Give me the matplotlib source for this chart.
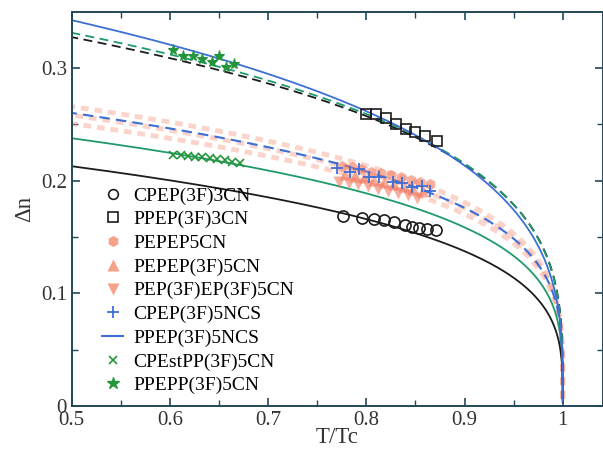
import numpy as np
import matplotlib
matplotlib.use('Agg')
import matplotlib.pyplot as plt
from matplotlib.lines import Line2D

plt.rcParams['font.family'] = ['Liberation Serif', 'DejaVu Serif']

# measured points
cpep3cn_x = [0.776, 0.796, 0.808, 0.818, 0.828, 0.839, 0.846, 0.854, 0.862, 0.871]
cpep3cn_y = [0.169, 0.167, 0.166, 0.165, 0.163, 0.161, 0.159, 0.158, 0.157, 0.156]

ppep3cn_x = [0.800, 0.810, 0.820, 0.830, 0.840, 0.850, 0.860, 0.872]
ppep3cn_y = [0.259, 0.259, 0.256, 0.250, 0.246, 0.243, 0.240, 0.235]

pepep5cn_x = [0.775, 0.785, 0.795, 0.805, 0.815, 0.825, 0.835, 0.845, 0.855, 0.865]
pepep5cn_y = [0.213, 0.212, 0.210, 0.208, 0.207, 0.205, 0.203, 0.201, 0.199, 0.197]

pepep3f5cn_x = [0.778, 0.788, 0.798, 0.808, 0.818, 0.828, 0.838, 0.848, 0.858]
pepep3f5cn_y = [0.206, 0.204, 0.203, 0.201, 0.199, 0.197, 0.195, 0.193, 0.191]

pep3fep3f5cn_x = [0.772, 0.782, 0.792, 0.802, 0.812, 0.822, 0.832, 0.842, 0.852]
pep3fep3f5cn_y = [0.199, 0.198, 0.197, 0.195, 0.193, 0.191, 0.189, 0.187, 0.185]

cpep5ncs_x = [0.770, 0.783, 0.793, 0.803, 0.813, 0.827, 0.836, 0.846, 0.857, 0.865]
cpep5ncs_y = [0.211, 0.208, 0.210, 0.203, 0.203, 0.199, 0.198, 0.194, 0.195, 0.191]

cpestpp_x = [0.603, 0.611, 0.618, 0.626, 0.633, 0.641, 0.648, 0.656, 0.663, 0.671]
cpestpp_y = [0.223, 0.223, 0.222, 0.221, 0.221, 0.220, 0.219, 0.218, 0.217, 0.216]

ppepp_x = [0.603, 0.613, 0.623, 0.633, 0.643, 0.650, 0.657, 0.665]
ppepp_y = [0.316, 0.311, 0.311, 0.308, 0.305, 0.311, 0.301, 0.304]

# Haller fits: dn = dn0 * (1 - T/Tc)**beta
fit_names = ['cpep3cn', 'ppep3cn', 'ppepp', 'ppep5ncs', 'cpep5ncs', 'cpestpp',
             'pepep5cn', 'pepep3f5cn', 'pep3fep3f5cn']
fit_dn0 = [0.257, 0.393, 0.399, 0.420, 0.308, 0.283, 0.314, 0.305, 0.296]
fit_beta = [0.272, 0.263, 0.268, 0.294, 0.2435, 0.2516, 0.24, 0.24, 0.24]

black = '#1c1c1c'
blue = '#3d6fd6'
green = '#23963c'
teal = '#1f9a6a'
salmon = '#f6a18a'
red = '#f27a60'
axcol = '#23475a'

band = dict(color=salmon, ls=(0, (1.6, 1.2)), lw=3.5, alpha=0.45)
fit_style = {
    'cpep3cn': dict(color=black, ls='-', lw=1.3),
    'ppep3cn': dict(color=black, ls=(0, (5, 3)), lw=1.3),
    'ppepp': dict(color=teal, ls=(0, (5, 3)), lw=1.3),
    'ppep5ncs': dict(color=blue, ls='-', lw=1.3),
    'cpep5ncs': dict(color=blue, ls=(0, (5, 3)), lw=1.5),
    'cpestpp': dict(color=teal, ls='-', lw=1.3),
    'pepep5cn': band,
    'pepep3f5cn': band,
    'pep3fep3f5cn': band,
}

fig = plt.figure(figsize=(6.03, 4.54), dpi=100)
ax = fig.add_axes([0.119, 0.106, 0.881, 0.868])

t = 1 - np.logspace(-7, np.log10(0.5), 600)
order = ['pepep5cn', 'pepep3f5cn', 'pep3fep3f5cn', 'cpestpp', 'cpep3cn',
         'cpep5ncs', 'ppep3cn', 'ppepp', 'ppep5ncs']
for name in order:
    i = fit_names.index(name)
    ax.plot(t, fit_dn0[i] * (1 - t) ** fit_beta[i], zorder=2, **fit_style[name])

ms = 8
ax.plot(pepep5cn_x, pepep5cn_y, 'h', color=red, ms=ms, alpha=0.6, mec='none', zorder=3)
ax.plot(pepep3f5cn_x, pepep3f5cn_y, '^', color=red, ms=ms, alpha=0.6, mec='none', zorder=3)
ax.plot(pep3fep3f5cn_x, pep3fep3f5cn_y, 'v', color=red, ms=ms, alpha=0.6, mec='none', zorder=3)
ax.plot(cpep3cn_x, cpep3cn_y, 'o', mfc='none', mec=black, mew=1.2, ms=8, zorder=4)
ax.plot(ppep3cn_x, ppep3cn_y, 's', mfc='none', mec=black, mew=1.2, ms=7.5, zorder=4)
ax.plot(cpep5ncs_x, cpep5ncs_y, '+', color=blue, ms=9, mew=1.3, zorder=4)
ax.plot(cpestpp_x, cpestpp_y, 'x', color=green, ms=6, mew=1.2, zorder=4)
ax.plot(ppepp_x, ppepp_y, '*', color=green, ms=8, mew=0.8, zorder=4)

handles = [
    Line2D([], [], ls='none', marker='o', mfc='none', mec=black, mew=1.2, ms=7),
    Line2D([], [], ls='none', marker='s', mfc='none', mec=black, mew=1.2, ms=7),
    Line2D([], [], ls='none', marker='h', color=salmon, mec='none', ms=8),
    Line2D([], [], ls='none', marker='^', color=salmon, mec='none', ms=8),
    Line2D([], [], ls='none', marker='v', color=salmon, mec='none', ms=8),
    Line2D([], [], ls='none', marker='+', color=blue, mew=1.3, ms=9),
    Line2D([], [], color=blue, lw=1.5),
    Line2D([], [], ls='none', marker='x', color=green, mew=1.2, ms=6),
    Line2D([], [], ls='none', marker='*', color=green, ms=9),
]
labels = ['CPEP(3F)3CN', 'PPEP(3F)3CN', 'PEPEP5CN', 'PEPEP(3F)5CN',
          'PEP(3F)EP(3F)5CN', 'CPEP(3F)5NCS', 'PPEP(3F)5NCS',
          'CPEstPP(3F)5CN', 'PPEPP(3F)5CN']
ax.legend(handles, labels, loc='lower left', bbox_to_anchor=(0.035, 0.0),
          frameon=False, handlelength=1.1, handletextpad=0.5,
          labelspacing=0.31, borderaxespad=0.2, prop={'size': 14})

ax.set_xlim(0.5, 1.041)
ax.set_ylim(0, 0.35)
ax.set_xticks([0.5, 0.6, 0.7, 0.8, 0.9, 1.0])
ax.set_xticklabels(['0.5', '0.6', '0.7', '0.8', '0.9', '1'])
ax.set_xticks(np.arange(0.55, 1.04, 0.1), minor=True)
ax.set_yticks([0, 0.1, 0.2, 0.3])
ax.set_yticklabels(['0', '0.1', '0.2', '0.3'])
ax.set_yticks([0.05, 0.15, 0.25], minor=True)
ax.tick_params(which='both', direction='in', top=True, right=True,
               color=axcol, labelsize=15, labelcolor='#333333')
ax.tick_params(which='major', length=6, width=1.2)
ax.tick_params(which='minor', length=4, width=1.0)
for s in ax.spines.values():
    s.set_color(axcol)
    s.set_linewidth(1.4)

ax.set_xlabel('T/Tc', fontsize=16.5, color='#333333', labelpad=-2)
ax.set_ylabel('Δn', fontsize=16.5, color='#333333', labelpad=4)

fig.savefig('out.png', dpi=100)
